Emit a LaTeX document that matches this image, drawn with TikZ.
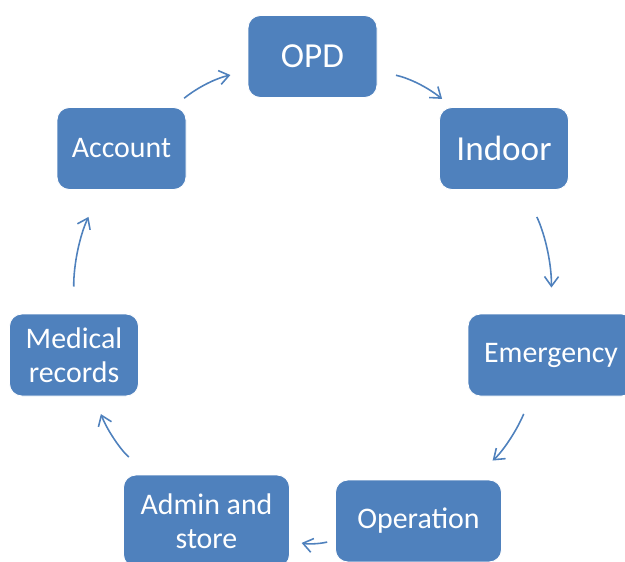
\documentclass[tikz,border=0pt]{standalone}
\usepackage{fontspec}
\setmainfont{Carlito}
\usepackage{tikz}
\usetikzlibrary{arrows.meta}

\definecolor{blubox}{RGB}{79,129,189}

\tikzset{
  box/.style={fill=blubox, draw=white, line width=0.5pt, rounded corners=7pt,
    text=white, minimum width=2.58cm, minimum height=1.64cm, inner sep=0pt,
    align=center, font=\fontsize{17}{19.5}\selectfont},
  bigbox/.style={box, font=\fontsize{20}{24}\selectfont},
  widebox/.style={box, minimum width=3.32cm},
  freccia/.style={blubox, line width=0.9pt,
    -{Straight Barb[length=5.5pt,width=8pt]}}
}

\begin{document}
\begin{tikzpicture}
\useasboundingbox (0,0) rectangle (12.5,11.22);
% OPD, in alto
\node[bigbox] (opd) at (6.25,10.09) {OPD};
% Indoor, a destra
\node[bigbox] (ind) at (10.08,8.25) {Indoor};
% Emergency, tagliato dal bordo
\node[widebox] (emg) at (11.02,4.12) {Emergency};
% Operation, in basso
\node[widebox] (ope) at (8.37,0.80) {Operation};
% Admin and store
\node[widebox, minimum height=1.84cm] (adm) at (4.13,0.80) {Admin and\\store};
% Medical records
\node[box] (med) at (1.48,4.12) {Medical\\records};
% Account, a sinistra
\node[box] (acc) at (2.43,8.25) {Account};
% frecce del ciclo
\draw[freccia, shorten <=8pt, shorten >=10pt] (acc) to[bend left=13] (opd);
\draw[freccia, shorten <=10.8pt, shorten >=7.4pt] (opd) to[bend left=13] (ind);
\draw[freccia, shorten <=17pt, shorten >=14.8pt] (ind) to[bend left=13] (emg);
\draw[freccia, shorten <=10.8pt, shorten >=16.5pt] (emg) to[bend left=13] (ope);
\draw[freccia, shorten <=4.6pt, shorten >=6.8pt] (ope) to[bend left=13] (adm);
\draw[freccia, shorten <=14.8pt, shorten >=10.8pt] (adm) to[bend left=13] (med);
\draw[freccia, shorten <=15.4pt, shorten >=17pt] (med) to[bend left=13] (acc);
\end{tikzpicture}
\end{document}
